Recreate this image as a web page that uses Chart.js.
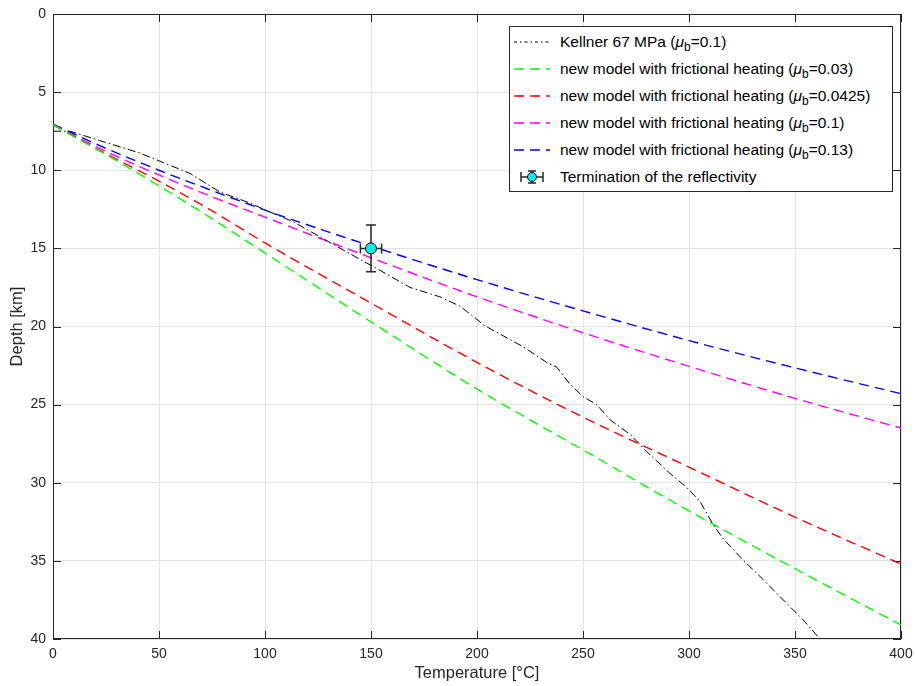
<!DOCTYPE html>
<html>
<head>
<meta charset="utf-8">
<script src="https://cdn.jsdelivr.net/npm/chart.js@4.4.1/dist/chart.umd.min.js"></script>
<style>
  body { margin: 0; background: #fff; }
  #wrap { position: relative; width: 915px; height: 686px; }
  #legend {
    position: absolute; left: 509px; top: 26px; width: 384px; height: 166px;
    box-sizing: border-box; border: 1px solid #262626; background: #fff;
    font-family: "Liberation Sans", Arial, sans-serif; font-size: 15.5px; color: #000;
    padding-top: 1px;
  }
  #legend .row { display: flex; align-items: center; height: 27px; white-space: nowrap; }
  #legend svg { margin-left: 4px; margin-right: 10px; flex: none; }
  #legend sub { font-size: 12px; vertical-align: -4px; line-height: 0; }
</style>
</head>
<body>
<div id="wrap">
  <canvas id="chart" width="915" height="686"></canvas>
  <div id="legend"></div>
</div>
<script>
// model curves, temperature in degC, depth in km
const modelTemps = [0, 25, 50, 75, 100, 150, 200, 250, 300, 350, 400];
const depthMu003 = [7.1, 9.0, 11.0, 13.1, 15.3, 19.7, 24.0, 27.9, 31.8, 35.5, 39.1];
const depthMu00425 = [7.1, 8.95, 10.7, 12.6, 14.65, 18.5, 22.3, 25.8, 29.0, 32.2, 35.2];
const depthMu01 = [7.1, 8.8, 10.3, 11.7, 13.0, 15.6, 18.1, 20.4, 22.55, 24.6, 26.5];
const depthMu013 = [7.05, 8.6, 10.0, 11.3, 12.55, 14.85, 17.0, 19.0, 20.9, 22.65, 24.3];

// Kellner 67 MPa geotherm
const kellnerTemps = [0, 8, 22, 41, 50, 64.6, 78.8, 92.9, 101, 113.4, 129, 144.8, 154.2,
  168.4, 182.5, 192, 200.5, 203, 212.4, 221.8, 232.9, 237.6, 243.9, 250.1, 256.5, 263,
  272.2, 280, 284.7, 291, 298.9, 305.2, 311.5, 316.2, 325.6, 335, 343, 354, 361.8];
const kellnerDepths = [7.5, 7.5, 8.1, 8.9, 9.4, 10.2, 11.4, 12.1, 12.6, 13.3, 14.5, 15.7, 16.4,
  17.5, 18.1, 18.7, 19.6, 19.9, 20.6, 21.3, 22.3, 22.6, 23.7, 24.5, 25.0, 26.0,
  26.9, 28.0, 28.6, 29.4, 30.3, 31.2, 32.7, 33.6, 34.95, 36.2, 37.3, 38.8, 40.0];

// reflectivity termination with error bars
const pointTemp = [150];
const pointDepth = [15];
const pointTempErr = [5];
const pointDepthErr = [1.5];

const legendLabels = [
  "Kellner 67 MPa (<i>&mu;</i><sub>b</sub>=0.1)",
  "new model with frictional heating (<i>&mu;</i><sub>b</sub>=0.03)",
  "new model with frictional heating (<i>&mu;</i><sub>b</sub>=0.0425)",
  "new model with frictional heating (<i>&mu;</i><sub>b</sub>=0.1)",
  "new model with frictional heating (<i>&mu;</i><sub>b</sub>=0.13)",
  "Termination of the reflectivity",
];

function pairs(xs, ys) {
  return xs.map((x, i) => ({ x: x, y: ys[i] }));
}

function modelSet(depths, color) {
  return {
    data: pairs(modelTemps, depths),
    borderColor: color,
    borderWidth: 1.4,
    borderDash: [10, 6],
    pointRadius: 0,
    cubicInterpolationMode: "monotone",
    fill: false,
  };
}

const datasets = [
  {
    data: pairs(kellnerTemps, kellnerDepths),
    borderColor: "#000000",
    borderWidth: 1,
    borderDash: [8, 3, 1.5, 3],
    pointRadius: 0,
    tension: 0,
  },
  modelSet(depthMu003, "#00ff00"),
  modelSet(depthMu00425, "#ff0000"),
  modelSet(depthMu01, "#ff00ff"),
  modelSet(depthMu013, "#0000ff"),
  {
    data: pairs(pointTemp, pointDepth),
    showLine: false,
    pointRadius: 5.5,
    pointBackgroundColor: "#00f0f0",
    pointBorderColor: "#000000",
    pointBorderWidth: 1,
    order: -1,
  },
];
datasets.forEach((d, i) => (d.label = legendLabels[i].replace(/<[^>]+>/g, "")));

const axisColor = "#262626";

// error bars for the reflectivity point
const errorBars = {
  id: "errorBars",
  beforeDatasetDraw(chart, args) {
    if (args.index !== 5) return;
    const xs = chart.scales.x, ys = chart.scales.y, ctx = chart.ctx;
    ctx.save();
    ctx.strokeStyle = "#262626";
    ctx.lineWidth = 1.5;
    pointTemp.forEach((t, i) => {
      const px = xs.getPixelForValue(t), py = ys.getPixelForValue(pointDepth[i]);
      const y0 = ys.getPixelForValue(pointDepth[i] - pointDepthErr[i]);
      const y1 = ys.getPixelForValue(pointDepth[i] + pointDepthErr[i]);
      const x0 = xs.getPixelForValue(t - pointTempErr[i]);
      const x1 = xs.getPixelForValue(t + pointTempErr[i]);
      ctx.beginPath();
      ctx.moveTo(px, y0); ctx.lineTo(px, y1);
      ctx.moveTo(px - 5, y0); ctx.lineTo(px + 5, y0);
      ctx.moveTo(px - 5, y1); ctx.lineTo(px + 5, y1);
      ctx.moveTo(x0, py); ctx.lineTo(x1, py);
      ctx.moveTo(x0, py - 5); ctx.lineTo(x0, py + 5);
      ctx.moveTo(x1, py - 5); ctx.lineTo(x1, py + 5);
      ctx.stroke();
    });
    ctx.restore();
  },
};

// MATLAB-like box with inward ticks
const axesBox = {
  id: "axesBox",
  beforeDatasetsDraw(chart) {
    const { ctx, chartArea: a } = chart;
    const xs = chart.scales.x, ys = chart.scales.y;
    ctx.save();
    ctx.strokeStyle = axisColor;
    ctx.lineWidth = 1;
    ctx.beginPath();
    xs.ticks.forEach((t) => {
      const px = Math.round(xs.getPixelForValue(t.value)) + 0.5;
      ctx.moveTo(px, a.bottom); ctx.lineTo(px, a.bottom - 8);
      ctx.moveTo(px, a.top); ctx.lineTo(px, a.top + 8);
    });
    ys.ticks.forEach((t) => {
      const py = Math.round(ys.getPixelForValue(t.value)) + 0.5;
      ctx.moveTo(a.left, py); ctx.lineTo(a.left + 8, py);
      ctx.moveTo(a.right, py); ctx.lineTo(a.right - 8, py);
    });
    ctx.stroke();
    ctx.strokeRect(a.left + 0.5, a.top + 0.5, a.right - a.left - 1, a.bottom - a.top - 1);
    ctx.restore();
  },
};

Chart.defaults.font.family = '"Liberation Sans", Arial, sans-serif';
Chart.defaults.color = axisColor;

const chart = new Chart(document.getElementById("chart"), {
  type: "line",
  data: { datasets: datasets },
  plugins: [errorBars, axesBox],
  options: {
    responsive: false,
    animation: false,
    layout: { padding: { top: 14, right: 14, left: 0, bottom: 0 } },
    plugins: {
      legend: { display: false },
      tooltip: { enabled: false },
    },
    scales: {
      x: {
        type: "linear",
        min: 0,
        max: 400,
        ticks: { stepSize: 50, padding: 7, font: { size: 14 }, maxRotation: 0 },
        grid: { color: "#e4e4e4", drawTicks: false },
        border: { display: false },
        title: { display: true, text: "Temperature [°C]", font: { size: 16.5 }, padding: { top: 0, bottom: 3 } },
        afterFit: (s) => { s.height = 47; s.paddingLeft = 0; s.paddingRight = 0; },
      },
      y: {
        type: "linear",
        reverse: true,
        min: 0,
        max: 40,
        ticks: { stepSize: 5, padding: 7, font: { size: 14 } },
        grid: { color: "#e4e4e4", drawTicks: false },
        border: { display: false },
        title: { display: true, text: "Depth [km]", font: { size: 16.5 }, padding: { top: 8, bottom: 0 } },
        afterFit: (s) => { s.width = 53; s.paddingTop = 0; s.paddingBottom = 0; },
      },
    },
  },
});

// html legend with subscripts
function sampleSvg(ds, i) {
  if (i === 5) {
    return '<svg width="36" height="16"><g stroke="#262626" stroke-width="1.5">' +
      '<line x1="7" y1="8" x2="29" y2="8"/><line x1="7" y1="3" x2="7" y2="13"/>' +
      '<line x1="29" y1="3" x2="29" y2="13"/><line x1="18" y1="2" x2="18" y2="14"/>' +
      '<line x1="14" y1="2" x2="22" y2="2"/><line x1="14" y1="14" x2="22" y2="14"/></g>' +
      '<circle cx="18" cy="8" r="4.5" fill="#00f0f0" stroke="#000"/></svg>';
  }
  return '<svg width="36" height="16"><line x1="0" y1="8" x2="36" y2="8" stroke="' +
    ds.borderColor + '" stroke-width="' + ds.borderWidth + '" stroke-dasharray="' +
    (i === 0 ? "3,3,1.5,3" : "10,6") + '"/></svg>';
}

document.getElementById("legend").innerHTML = chart.data.datasets
  .map((ds, i) => '<div class="row">' + sampleSvg(ds, i) + "<span>" + legendLabels[i] + "</span></div>")
  .join("");
</script>
</body>
</html>
